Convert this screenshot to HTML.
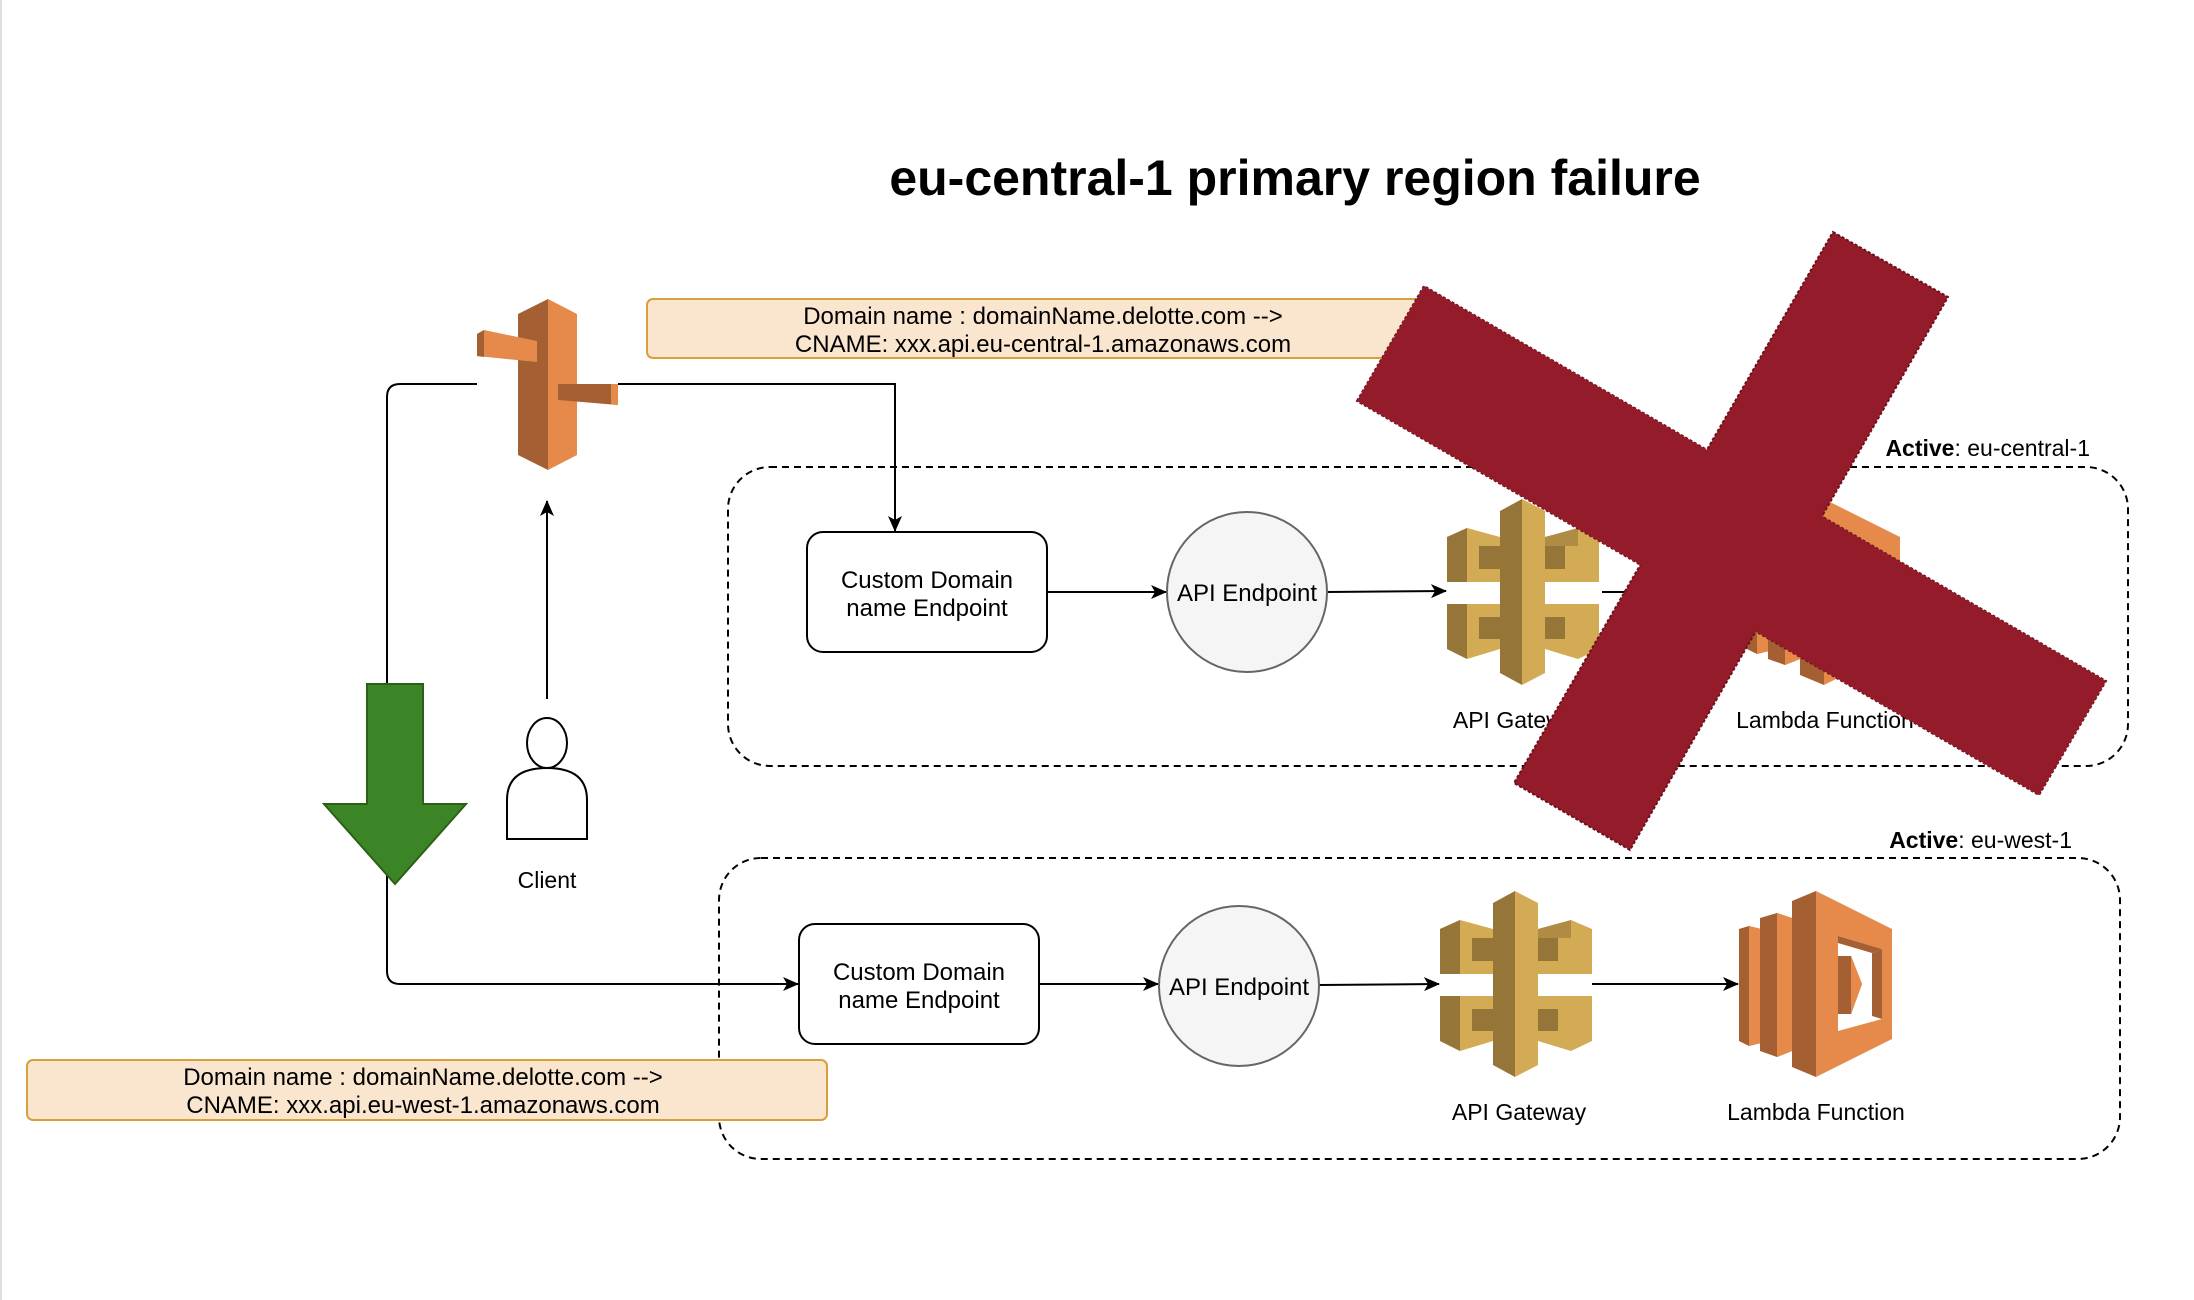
<!DOCTYPE html>
<html><head><meta charset="utf-8"><style>
html,body{margin:0;padding:0;background:#fff;}
svg{display:block;}
text{font-family:"Liberation Sans",Arial,sans-serif;fill:#000;}
</style></head><body>
<svg width="2194" height="1300" viewBox="0 0 2194 1300" xmlns="http://www.w3.org/2000/svg">
<defs>
<marker id="ar" markerWidth="16" markerHeight="14" refX="15" refY="7" orient="auto" markerUnits="userSpaceOnUse">
<path d="M0,0 L16,7 L0,14 L4,7 Z" fill="#000"/>
</marker>
<g id="gw">
 <polygon points="0,38 20,29 53,38 53,83 0,83" fill="#D4AB55"/>
 <polygon points="0,38 20,29 20,83 0,83" fill="#967638"/>
 <polygon points="32,47 53,47 53,70 32,70" fill="#967638"/>
 <polygon points="98,38 131,29 152,38 152,83 98,83" fill="#D4AB55"/>
 <polygon points="98,47 118,47 118,70 98,70" fill="#967638"/>
 <polygon points="98,38 131,29 131,47 98,47" fill="#967638" opacity="0.6"/>
 <polygon points="0,105 53,105 53,150 20,160 0,150" fill="#D4AB55"/>
 <polygon points="0,105 20,105 20,160 0,150" fill="#967638"/>
 <polygon points="32,118 53,118 53,140 32,140" fill="#967638"/>
 <polygon points="98,105 152,105 152,150 131,160 98,150" fill="#D4AB55"/>
 <polygon points="98,118 118,118 118,140 98,140" fill="#967638"/>
 <polygon points="53,12 75,0 75,186 53,174" fill="#967638"/>
 <polygon points="75,0 98,12 98,174 75,186" fill="#D4AB55"/>
</g>
<g id="lb">
 <polygon points="0,38 10,35 22,38 22,152 10,155 0,150" fill="#A45F32"/>
 <polygon points="10,35 22,38 22,152 10,155" fill="#E58A4A"/>
 <polygon points="21,27 38,22 53,27 53,160 38,166 21,160" fill="#A45F32"/>
 <polygon points="38,22 53,27 53,160 38,166" fill="#E58A4A"/>
 <polygon points="53,10 77,0 77,186 53,176" fill="#A45F32"/>
 <polygon points="77,0 153,38 153,148 77,186" fill="#E58A4A"/>
 <polygon points="99,45 143,58 143,128 99,140" fill="#fff"/>
 <polygon points="99,45 143,58 133,62 99,52" fill="#A45F32"/>
 <polygon points="133,62 143,58 143,128 133,125" fill="#A45F32"/>
 <polygon points="99,65 112,65 123,93 112,123 99,123" fill="#A45F32"/>
 <polygon points="112,65 123,93 112,123" fill="#E58A4A"/>
</g>
</defs>

<line x1="1" y1="0" x2="1" y2="1300" stroke="#ddd" stroke-width="2"/>

<text x="1295" y="195" font-size="50" font-weight="bold" text-anchor="middle">eu-central-1 primary region failure</text>

<rect x="728" y="467" width="1400" height="299" rx="42" fill="none" stroke="#000" stroke-width="2" stroke-dasharray="7,5"/>
<rect x="719" y="858" width="1401" height="301" rx="42" fill="none" stroke="#000" stroke-width="2" stroke-dasharray="7,5"/>
<text x="2090" y="456" font-size="23" text-anchor="end"><tspan font-weight="bold">Active</tspan>: eu-central-1</text>
<text x="2072" y="848" font-size="23" text-anchor="end"><tspan font-weight="bold">Active</tspan>: eu-west-1</text>

<rect x="647" y="299" width="792" height="59" rx="6" fill="#FAE5CF" stroke="#D6A03A" stroke-width="2"/>
<text x="1043" y="324" font-size="24" text-anchor="middle">Domain name : domainName.delotte.com --&gt;</text>
<text x="1043" y="352" font-size="24" text-anchor="middle">CNAME: xxx.api.eu-central-1.amazonaws.com</text>
<rect x="27" y="1060" width="800" height="60" rx="6" fill="#FAE5CF" stroke="#D6A03A" stroke-width="2"/>
<text x="423" y="1085" font-size="24" text-anchor="middle">Domain name : domainName.delotte.com --&gt;</text>
<text x="423" y="1113" font-size="24" text-anchor="middle">CNAME: xxx.api.eu-west-1.amazonaws.com</text>

<path d="M618,384 L895,384 L895,531" fill="none" stroke="#000" stroke-width="2" marker-end="url(#ar)"/>
<path d="M477,384 L400,384 Q387,384 387,397 L387,971 Q387,984 400,984 L798,984" fill="none" stroke="#000" stroke-width="2" marker-end="url(#ar)"/>
<path d="M547,699 L547,501" fill="none" stroke="#000" stroke-width="2" marker-end="url(#ar)"/>
<path d="M1047,592 L1166,592" stroke="#000" stroke-width="2" marker-end="url(#ar)"/>
<path d="M1327,592 L1446,591" stroke="#000" stroke-width="2" marker-end="url(#ar)"/>
<path d="M1602,592 L1746,592" stroke="#000" stroke-width="2" marker-end="url(#ar)"/>
<path d="M1039,984 L1158,984" stroke="#000" stroke-width="2" marker-end="url(#ar)"/>
<path d="M1319,985 L1439,984" stroke="#000" stroke-width="2" marker-end="url(#ar)"/>
<path d="M1592,984 L1738,984" stroke="#000" stroke-width="2" marker-end="url(#ar)"/>

<polygon points="518,314 548,299 548,470 518,455" fill="#A45F32"/>
<polygon points="548,299 577,314 577,455 548,470" fill="#E58A4A"/>
<polygon points="477,334 484,330 537,341 537,362 477,356" fill="#E58A4A"/>
<polygon points="477,334 484,330 484,357 477,356" fill="#A45F32"/>
<polygon points="558,384 618,384 618,405 558,400" fill="#A45F32"/>
<polygon points="611,384 618,384 618,405 611,404" fill="#E58A4A"/>

<polygon points="367,684 423,684 423,804 466,804 395,884 324,804 367,804" fill="#3C8527" stroke="#2D6016" stroke-width="2"/>

<ellipse cx="547" cy="743" rx="20" ry="25" fill="#fff" stroke="#000" stroke-width="2"/>
<path d="M507,839 L507,800 Q507,768 547,768 Q587,768 587,800 L587,839 Z" fill="#fff" stroke="#000" stroke-width="2"/>
<text x="547" y="888" font-size="23" text-anchor="middle">Client</text>

<rect x="807" y="532" width="240" height="120" rx="16" fill="#fff" stroke="#000" stroke-width="2"/>
<text x="927" y="588" font-size="24" text-anchor="middle">Custom Domain</text>
<text x="927" y="616" font-size="24" text-anchor="middle">name Endpoint</text>
<rect x="799" y="924" width="240" height="120" rx="16" fill="#fff" stroke="#000" stroke-width="2"/>
<text x="919" y="980" font-size="24" text-anchor="middle">Custom Domain</text>
<text x="919" y="1008" font-size="24" text-anchor="middle">name Endpoint</text>

<circle cx="1247" cy="592" r="80" fill="#F5F5F5" stroke="#666" stroke-width="2"/>
<text x="1247" y="601" font-size="24" text-anchor="middle" fill="#333">API Endpoint</text>
<circle cx="1239" cy="986" r="80" fill="#F5F5F5" stroke="#666" stroke-width="2"/>
<text x="1239" y="995" font-size="24" text-anchor="middle" fill="#333">API Endpoint</text>

<use href="#gw" x="1447" y="499"/>
<use href="#lb" x="1747" y="499"/>
<use href="#gw" x="1440" y="891"/>
<use href="#lb" x="1739" y="891"/>
<text x="1520" y="728" font-size="23" text-anchor="middle">API Gateway</text>
<text x="1825" y="728" font-size="23" text-anchor="middle">Lambda Function</text>
<text x="1519" y="1120" font-size="23" text-anchor="middle">API Gateway</text>
<text x="1816" y="1120" font-size="23" text-anchor="middle">Lambda Function</text>

<polygon points="1357,401 1424,286 2106,681 2039,795" fill="#941C2A" stroke="#6e0f1c" stroke-width="2" stroke-dasharray="3,2"/>
<polygon points="1833,232 1948,297 1630,850 1514,783" fill="#941C2A" stroke="#6e0f1c" stroke-width="2" stroke-dasharray="3,2"/>
<polygon points="1357,401 1424,286 2106,681 2039,795" fill="#941C2A"/>
</svg>
</body></html>
